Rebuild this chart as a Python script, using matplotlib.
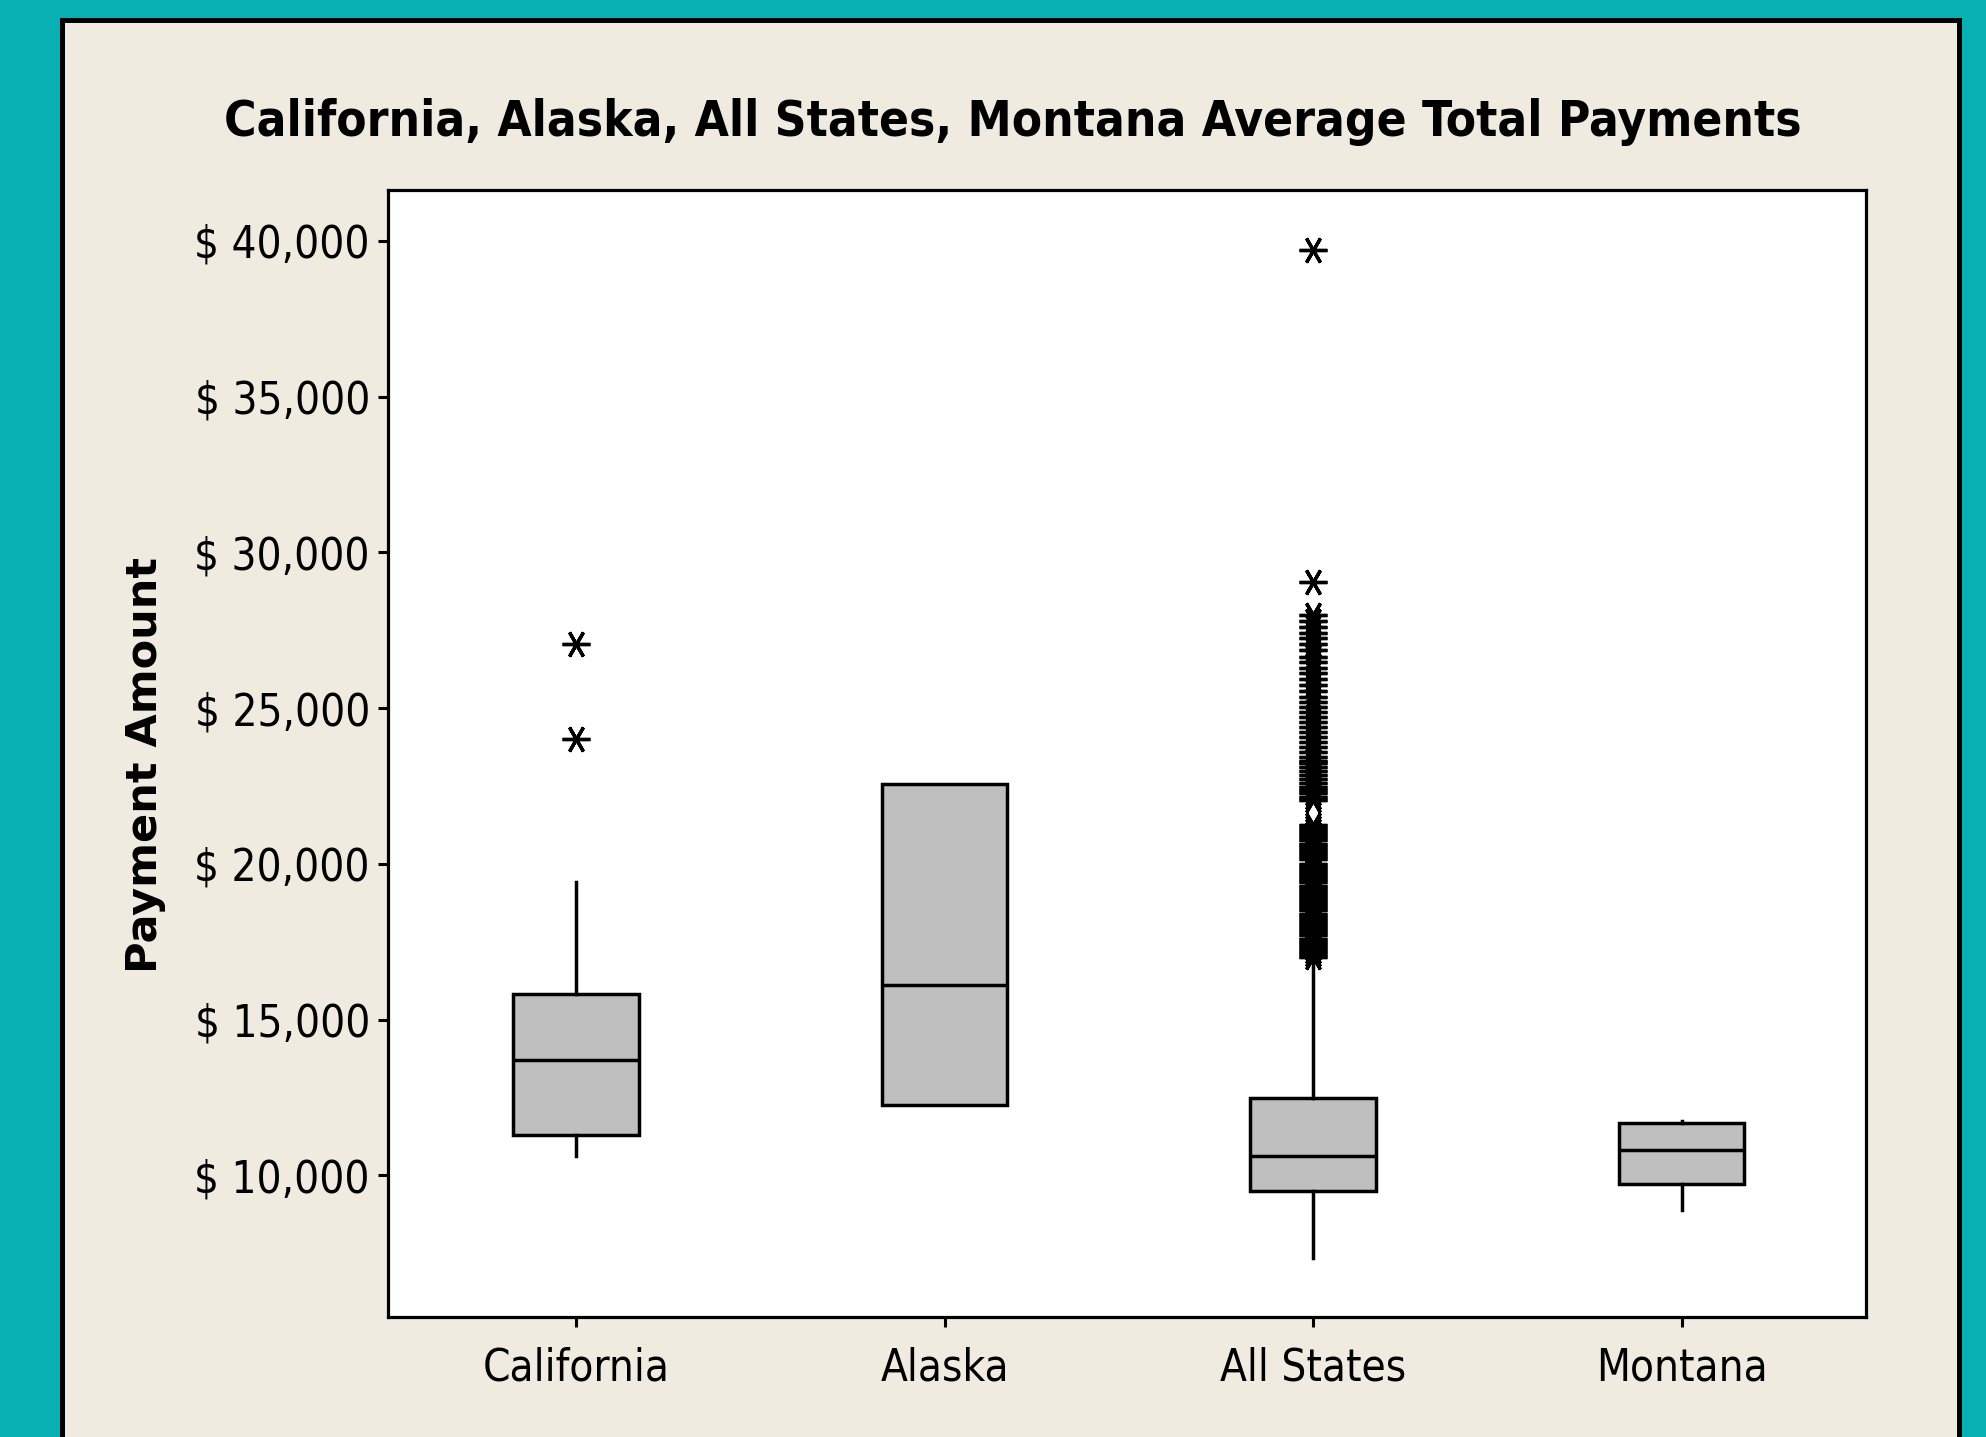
import matplotlib
matplotlib.use("Agg")
import matplotlib.pyplot as plt
import matplotlib.ticker as mticker
from matplotlib import font_manager
from matplotlib.patches import Rectangle

# ── Data ──────────────────────────────────────────────────────────────────────

categories = ["California", "Alaska", "All States", "Montana"]
q1 = [11300, 12240, 9510, 9720]
medians = [13700, 16100, 10610, 10810]
q3 = [15810, 22560, 12480, 11670]
whisker_low = [10610, 12240, 7360, 8900]
whisker_high = [19430, 22560, 16850, 11750]

california_outliers = [23990, 27070]
alaska_outliers = []
all_states_outliers = [
    39700, 29050,
    27990, 27800, 27600, 27420, 27250, 27050, 26860, 26650, 26470, 26300,
    26120, 25930, 25740, 25550, 25350, 25200, 25030, 24870, 24710, 24550,
    24390, 24230, 24070, 23900, 23750, 23600, 23420, 23300, 23230, 23100,
    22980, 22850, 22720, 22600, 22480, 22370, 22270, 22150, 22040,
    21250, 21150, 21050, 20950, 20850, 20750, 20650, 20550, 20450, 20350,
    20250, 20150, 20000, 19900, 19800, 19700, 19600, 19500, 19400, 19300,
    19200, 19100, 19000, 18900, 18800, 18700, 18600, 18500, 18400, 18300,
    18200, 18100, 18000, 17900, 17800, 17700, 17600, 17500, 17400, 17300,
    17200, 17100, 17000,
]
montana_outliers = []
outliers = [california_outliers, alaska_outliers, all_states_outliers, montana_outliers]

y_ticks = [10000, 15000, 20000, 25000, 30000, 35000, 40000]

# ── Style ─────────────────────────────────────────────────────────────────────

TEAL = "#08AFB3"
PANEL = "#EFEBE0"
BOX_GRAY = "#BFBFBF"
LW = 2.5


def _narrow_font(bold=False):
    """Find a narrow/condensed font file; fall back to DejaVu Sans."""
    wanted = (["LiberationSansNarrow-Bold.", "DejaVuSansCondensed-Bold.",
               "RobotoCondensed-Bold.", "OpenSans_Condensed-Bold", "OpenSansCondensed-Bold"]
              if bold else
              ["LiberationSansNarrow-Regular.", "DejaVuSansCondensed.",
               "RobotoCondensed-Regular.", "OpenSans_Condensed-Regular", "OpenSansCondensed-Light"])
    files = [f.fname for f in font_manager.fontManager.ttflist]
    for key in wanted:
        for fname in files:
            if key in fname.split("/")[-1]:
                return font_manager.FontProperties(fname=fname)
    return font_manager.FontProperties(family="DejaVu Sans",
                                       weight="bold" if bold else "normal",
                                       stretch="condensed")


TICK_FP = _narrow_font()
TITLE_FP = _narrow_font(bold=True)

W, H = 1986, 1437
fig = plt.figure(figsize=(W / 100, H / 100), dpi=100, facecolor=TEAL)

# beige panel with black frame (runs off the bottom edge)
panel = Rectangle((62 / W, -0.05), (1959 - 62) / W, 1.05 - 20 / H,
                  transform=fig.transFigure, facecolor=PANEL,
                  edgecolor="black", linewidth=3.6, zorder=-10)
fig.add_artist(panel)

ax = fig.add_axes([388 / W, 1 - 1317 / H, (1866 - 388) / W, (1317 - 190) / H])
ax.set_zorder(1)
ax.set_facecolor("white")

stats = []
for i, name in enumerate(categories):
    stats.append(dict(label=name, q1=q1[i], med=medians[i], q3=q3[i],
                      whislo=whisker_low[i], whishi=whisker_high[i],
                      fliers=outliers[i]))

ax.bxp(stats, positions=range(1, len(categories) + 1), widths=0.34,
       patch_artist=True, showcaps=False,
       boxprops=dict(facecolor=BOX_GRAY, edgecolor="black", linewidth=LW),
       medianprops=dict(color="black", linewidth=LW),
       whiskerprops=dict(color="black", linewidth=LW),
       flierprops=dict(marker=(6, 2, 30), markersize=20, markeredgecolor="black",
                       markerfacecolor="none", markeredgewidth=2.4, linestyle="none"))

ax.set_xlim(0.49, 4.5)
ax.set_ylim(5450, 41630)
ax.set_yticks(y_ticks)
ax.yaxis.set_major_formatter(mticker.FuncFormatter(lambda v, _: f"$ {v:,.0f}"))

for side in ["top", "right", "bottom", "left"]:
    ax.spines[side].set_linewidth(2.3)
ax.tick_params(axis="both", direction="out", length=7, width=2.2,
               top=False, right=False)
ax.tick_params(axis="y", pad=6)
ax.tick_params(axis="x", pad=14)
for lbl in ax.get_xticklabels() + ax.get_yticklabels():
    lbl.set_fontproperties(TICK_FP)
    lbl.set_fontsize(31.5)

ax.set_ylabel("Payment Amount", fontsize=31, fontweight="bold", family="DejaVu Sans")
ax.yaxis.set_label_coords((166 - 388) / 1478, 0.49)

title = fig.text(1013 / W, 1 - 122 / H,
                 "California, Alaska, All States, Montana Average Total Payments",
                 ha="center", va="center", fontproperties=TITLE_FP)
title.set_fontsize(35.5)

fig.savefig("out.png", dpi=100, facecolor=TEAL)
